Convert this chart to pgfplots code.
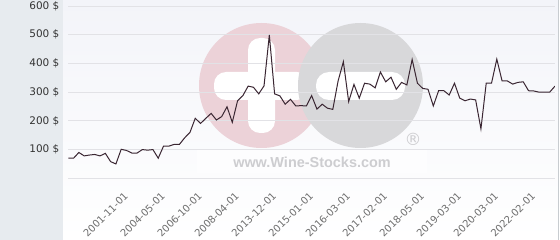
\documentclass[border=0pt]{standalone}
\usepackage{pgfplots}
\pgfplotsset{compat=1.18}
\usepackage{fontspec}
\setmainfont{DejaVu Sans}
\newfontfamily\wsfont{Liberation Sans}
\definecolor{leftbg}{RGB}{231,235,239}
\definecolor{paneltop}{RGB}{243,244,249}
\definecolor{bordercol}{RGB}{200,204,208}
\definecolor{gridcol}{RGB}{226,226,230}
\definecolor{wspink}{RGB}{236,210,216}
\definecolor{wsgray}{RGB}{216,216,218}
\definecolor{wstext}{RGB}{205,205,208}
\definecolor{linecol}{RGB}{58,38,50}
\definecolor{ylab}{RGB}{51,51,51}
\definecolor{xlab}{RGB}{110,110,110}
\begin{document}
\begin{tikzpicture}
\path[use as bounding box] (0bp,0bp) rectangle (560bp,240bp);
\fill[leftbg] (0bp,0bp) rectangle (63bp,240bp);
\shade[top color=paneltop,bottom color=white] (63bp,0bp) rectangle (558bp,240bp);
\draw[bordercol, line width=1bp] (558bp,0bp) -- (558bp,240bp);
% watermark
\fill[wspink] (261.5bp,154.5bp) circle (62.5bp);
\fill[white, rounded corners=12bp] (248bp,107bp) rectangle (275bp,202bp);
\fill[white, rounded corners=12bp] (214bp,140bp) rectangle (309bp,168bp);
\fill[wsgray] (360.5bp,154.5bp) circle (62.5bp);
\fill[white, rounded corners=13bp] (316bp,140bp) rectangle (405bp,168bp);
\fill[white, opacity=0.6] (197bp,67bp) rectangle (427bp,90bp);
\node[font=\wsfont\bfseries\fontsize{14.5}{14.5}\selectfont, text=wstext, inner sep=0pt] at (312bp,78bp) {www.Wine-Stocks.com};
\node[font=\fontsize{17}{17}\selectfont, text=wstext, inner sep=0pt] at (413bp,100.5bp) {\textregistered};
\begin{axis}[
  at={(68.3bp,61.7bp)}, anchor=south west,
  scale only axis, width=486.7bp, height=172.3bp,
  xmin=0, xmax=92, ymin=0, ymax=600,
  axis line style={draw=none},
  major tick length=0pt,
  tick style={draw=none},
  ymajorgrids, grid style={gridcol, line width=1bp},
  /pgf/number format/assume math mode=true,
  ytick={0,100,200,300,400,500,600},
  yticklabels={,100 \$,200 \$,300 \$,400 \$,500 \$,600 \$},
  yticklabel style={font=\fontsize{10.5}{12}\selectfont, text=ylab, inner sep=0pt, anchor=east, xshift=-8.8bp},
  xtick={10,17,24,31,38,45,52,59,66,73,80,87},
  xticklabels={2001-11-01,2004-05-01,2006-10-01,2008-04-01,2013-12-01,2015-01-01,2016-03-01,2017-02-01,2018-05-01,2019-03-01,2020-03-01,2022-02-01},
  xticklabel style={font=\fontsize{10}{12}\selectfont, text=xlab, inner sep=0pt, xshift=5bp, yshift=-16bp, rotate=45, anchor=east},
]
\addplot[linecol, line width=1bp, mark=none] coordinates {
(0,70) (1,70) (2,90) (3,78) (4,81) (5,83) (6,78) (7,87) (8,58) (9,50)
(10,101) (11,97) (12,88) (13,88) (14,100) (15,98) (16,100) (17,70) (18,112) (19,112)
(20,118) (21,118) (22,141) (23,160) (24,209) (25,191) (26,209) (27,226) (28,203) (29,215)
(30,249) (31,195) (32,270) (33,288) (34,321) (35,317) (36,294) (37,322) (38,499) (39,294)
(40,287) (41,258) (42,275) (43,252) (44,253) (45,252) (46,288) (47,241) (48,258) (49,244)
(50,240) (51,339) (52,406) (53,267) (54,327) (55,279) (56,331) (57,328) (58,315) (59,370)
(60,336) (61,352) (62,310) (63,334) (64,325) (65,414) (66,331) (67,313) (68,310) (69,252)
(70,305) (71,305) (72,290) (73,331) (74,279) (75,270) (76,276) (77,273) (78,172) (79,331)
(80,331) (81,415) (82,339) (83,339) (84,328) (85,334) (86,336) (87,305) (88,304) (89,300)
(90,300) (91,300) (92,321)
};
\end{axis}
\end{tikzpicture}
\end{document}
